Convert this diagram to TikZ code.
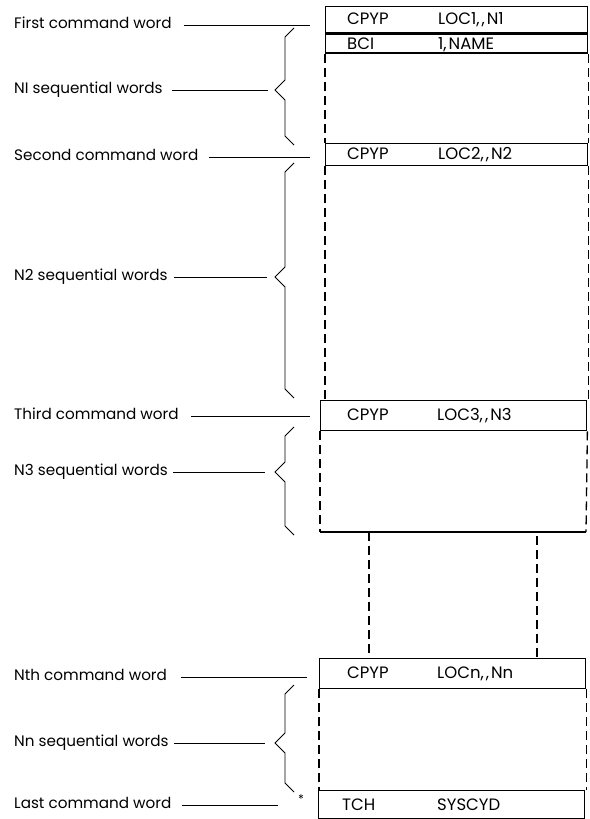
\documentclass[tikz,border=0pt]{standalone}
\usepackage{fontspec}
\setmainfont{Poppins}
\usetikzlibrary{positioning}

\begin{document}
\begin{tikzpicture}[
        x=1pt, y=-1pt,
        lbl/.style={anchor=west, inner sep=0pt, text height=1.4ex, text depth=0pt,
                    font=\fontsize{15.2}{15}\selectfont},
        cmdbox/.style={draw, line width=1.4pt, anchor=north west, inner sep=0pt,
                       minimum width=262pt},
        cmdtxt/.style={anchor=west, inner sep=0pt, font=\fontsize{16.5}{16}\selectfont},
        lead/.style={line width=0.7pt},
        brace/.style={line width=0.8pt},
        dashside/.style={line width=1.3pt, dash pattern=on 9pt off 5pt}
    ]
        \useasboundingbox (0,0) rectangle (589,819);

        % command words
        \node[cmdbox, minimum height=26pt] (c1) at (325,6) {};
        \node[cmdbox, minimum height=19pt] (bci) at (c1.south west) {};
        \node[cmdbox, minimum height=22pt] (c2) at (325,143) {};
        \node[cmdbox, minimum height=30pt, minimum width=266pt] (c3) at (320,400) {};
        \node[cmdbox, minimum height=30pt, minimum width=266pt] (cn) at (319,658) {};
        \node[cmdbox, minimum height=28pt, minimum width=266pt] (tch) at (318,790) {};

        \node[cmdtxt] (c1t)  at ([xshift=22pt]c1.west)  {\makebox[91pt][l]{CPYP}LOC1,\kern2pt,\kern2pt N1};
        \node[cmdtxt] (bcit) at ([xshift=22pt,yshift=-1.5pt]bci.west) {\makebox[91pt][l]{BCI}1,\kern2pt NAME};
        \node[cmdtxt] (c2t)  at ([xshift=22pt]c2.west)  {\makebox[91pt][l]{CPYP}LOC2,\kern2pt,\kern2pt N2};
        \node[cmdtxt] (c3t)  at ([xshift=27pt]c3.west)  {\makebox[90pt][l]{CPYP}LOC3,\kern2pt,\kern2pt N3};
        \node[cmdtxt] (cnt)  at ([xshift=28pt]cn.west)  {\makebox[90pt][l]{CPYP}LOCn,\kern2pt,\kern2pt Nn};
        \node[cmdtxt] (tcht) at ([xshift=24pt]tch.west) {\makebox[95pt][l]{TCH}SYSCYD};

        % sequential words
        \draw[dashside] (bci.south west) -- (bci.south west |- c2.north);
        \draw[dashside] (bci.south east) -- (bci.south east |- c2.north);
        \draw[dashside] (c2.south west) -- (c2.south west |- c3.north);
        \draw[dashside] (c2.south east) -- (c2.south east |- c3.north);

        \coordinate (e3w) at (320,532);
        \coordinate (e3e) at (586,532);
        \draw[dashside] (c3.south west) -- (e3w);
        \draw[dashside] (c3.south east) -- (e3e);
        \draw[line width=1.4pt] (e3w) -- (e3e);

        \coordinate (gapl) at (369,532);
        \coordinate (gapr) at (537,536);
        \draw[dashside] (gapl) -- (gapl |- cn.north);
        \draw[dashside] (gapr) -- (gapr |- cn.north);

        \draw[dashside] (cn.south west) -- (cn.south west |- tch.north);
        \draw[dashside] (cn.south east) -- (cn.south east |- tch.north);

        % braces
        \foreach \t/\m/\b [count=\i] in {28/90/145, 163/277/398, 427/472/535, 685/743/792}{
            \draw[brace] (294,\t) -- (285,\t+9) -- (285,\m-10) -- (275,\m)
                -- (285,\m+10) -- (285,\b-9) -- (294,\b);
            \coordinate (tip\i) at (275,\m);
        }

        % labels
        \node[lbl] (l1)  at (14,25)  {First command word};
        \node[lbl] (s1)  at (14,90)  {NI sequential words};
        \node[lbl] (l2)  at (14,157) {Second command word};
        \node[lbl] (s2)  at (14,277) {N2 sequential words};
        \node[lbl] (l3)  at (14,416) {Third command word};
        \node[lbl] (s3)  at (14,472) {N3 sequential words};
        \node[lbl] (ln)  at (14,677) {Nth command word};
        \node[lbl] (sn)  at (14,743) {Nn sequential words};
        \node[lbl] (lst) at (14,805) {Last command word};
        \node[inner sep=0pt, font=\fontsize{12}{12}\selectfont] (star) at (301,799) {*};

        \draw[lead] ([xshift=12pt]l1.east) -- ([xshift=-15pt]c1.west |- l1.east);
        \draw[lead] ([xshift=10pt]l2.east) -- ([xshift=-15pt]c2.west |- l2.east);
        \draw[lead] ([xshift=12pt]l3.east) -- ([xshift=-10pt]c3.west |- l3.east);
        \draw[lead] ([xshift=14pt]ln.east) -- ([xshift=-12pt]cn.west |- ln.east);
        \draw[lead] ([xshift=10pt]lst.east) -- ([xshift=-20pt]star.west |- lst.east);

        \draw[lead] ([xshift=9pt]s1.east) -- ([xshift=-7pt]tip1);
        \draw[lead] ([xshift=6pt]s2.east) -- ([xshift=-8pt]tip2);
        \draw[lead] ([xshift=5pt]s3.east) -- ([xshift=-10pt]tip3);
        \draw[lead] ([xshift=5pt]sn.east) -- ([xshift=-10pt]tip4);
    \end{tikzpicture}
\end{document}
